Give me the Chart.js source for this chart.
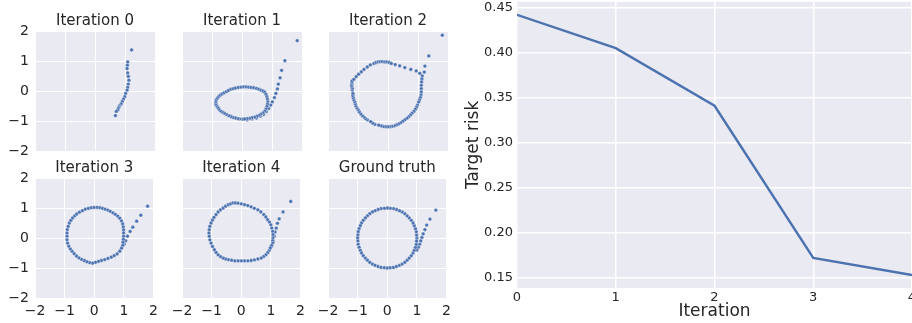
<!DOCTYPE html>
<html>
<head>
<meta charset="utf-8">
<script src="https://cdn.jsdelivr.net/npm/chart.js@4.4.0/dist/chart.umd.min.js"></script>
<style>
html, body { margin: 0; padding: 0; background: #fff; overflow: hidden; width: 912px; height: 323px; position: relative; }
canvas { position: absolute; }
</style>
</head>
<body>
<script>
// ---- data ----
var panelTitles = ['Iteration 0', 'Iteration 1', 'Iteration 2', 'Iteration 3', 'Iteration 4', 'Ground truth'];
var axisTicks = [-2, -1, 0, 1, 2];

var iter0 = [[1.22,1.37],[1.09,0.97],[1.08,0.86],[1.07,0.75],[1.09,0.60],[1.11,0.49],[1.13,0.36],[1.11,0.23],
  [1.09,0.12],[1.07,0.03],[1.02,-0.08],[0.99,-0.19],[0.95,-0.27],[0.91,-0.35],[0.87,-0.43],[0.82,-0.49],
  [0.80,-0.53],[0.78,-0.57],[0.76,-0.63],[0.71,-0.68],[0.68,-0.82]];

var iter1 = [[1.84,1.68],[1.43,1.01],[1.32,0.69],[1.27,0.44],[1.21,0.23],[1.18,0.07],[1.13,-0.08],[1.08,-0.22],
  [1.01,-0.36],[0.96,-0.47],[0.89,-0.58],[0.81,-0.69],[0.72,-0.78],[0.61,-0.84],[0.48,-0.90],[0.33,-0.93],
  [0.17,-0.96],[0.02,-0.94],[-0.08,-0.93],[-0.14,-0.92],[-0.22,-0.90],[-0.30,-0.88],[-0.37,-0.85],[-0.44,-0.82],
  [-0.52,-0.78],[-0.59,-0.74],[-0.66,-0.70],[-0.72,-0.66],[-0.77,-0.60],[-0.81,-0.54],[-0.85,-0.48],[-0.87,-0.43],
  [-0.87,-0.36],[-0.86,-0.30],[-0.82,-0.24],[-0.78,-0.19],[-0.73,-0.14],[-0.67,-0.10],[-0.60,-0.06],[-0.52,-0.02],
  [-0.45,0.02],[-0.37,0.06],[-0.29,0.08],[-0.21,0.10],[-0.12,0.12],[-0.03,0.13],[0.06,0.14],[0.14,0.14],
  [0.22,0.13],[0.30,0.12],[0.39,0.11],[0.48,0.09],[0.56,0.06],[0.63,0.03],[0.70,0.00],[0.76,-0.04],
  [0.80,-0.11],[0.83,-0.19],[0.85,-0.27],[0.86,-0.36],[0.85,-0.44],[0.83,-0.52],[0.80,-0.60],[0.76,-0.67],
  [0.70,-0.73],[0.63,-0.77],[0.57,-0.81],[0.50,-0.84],[0.42,-0.87],[0.33,-0.89],[0.25,-0.91],[0.17,-0.92],[0.09,-0.93]];

var iter2 = [[1.81,1.86],[1.36,1.17],[1.23,0.83],[1.21,0.63],[1.14,0.50],[1.13,0.40],[1.12,0.30],[1.11,0.19],
  [1.11,0.08],[1.11,-0.03],[1.10,-0.13],[1.08,-0.22],[1.05,-0.30],[1.02,-0.37],[0.98,-0.47],[0.95,-0.54],
  [0.91,-0.61],[0.86,-0.68],[0.80,-0.74],[0.75,-0.80],[0.69,-0.86],[0.63,-0.91],[0.56,-0.96],[0.49,-1.01],
  [0.42,-1.06],[0.35,-1.10],[0.28,-1.13],[0.21,-1.16],[0.13,-1.18],[0.06,-1.19],[0.00,-1.19],[-0.08,-1.19],
  [-0.16,-1.18],[-0.23,-1.16],[-0.31,-1.14],[-0.44,-1.11],[-0.51,-1.07],[-0.58,-1.02],[-0.69,-0.96],[-0.75,-0.92],
  [-0.80,-0.87],[-0.86,-0.82],[-0.91,-0.76],[-0.96,-0.69],[-1.00,-0.62],[-1.04,-0.56],[-1.07,-0.50],[-1.09,-0.43],
  [-1.11,-0.36],[-1.14,-0.29],[-1.16,-0.22],[-1.17,-0.15],[-1.17,-0.08],[-1.19,0.03],[-1.19,0.09],[-1.21,0.16],
  [-1.21,0.22],[-1.20,0.28],[-1.20,0.33],[-1.14,0.39],[-1.06,0.48],[-0.98,0.56],[-0.89,0.64],[-0.80,0.72],
  [-0.69,0.80],[-0.59,0.87],[-0.47,0.92],[-0.40,0.95],[-0.33,0.97],[-0.26,0.98],[-0.19,0.98],[-0.11,0.97],
  [-0.04,0.97],[0.04,0.95],[0.11,0.92],[0.24,0.88],[0.39,0.84],[0.56,0.78],[0.76,0.72],[0.94,0.67],[1.06,0.59]];

var iter3 = [[1.80,1.06],[1.57,0.76],[1.43,0.56],[1.30,0.36],[1.21,0.22],[1.12,0.06],[1.06,-0.09],[1.01,-0.20],
  [-0.92,0.06],[-0.92,0.17],[-0.91,0.28],[-0.88,0.39],[-0.84,0.50],[-0.79,0.59],[-0.73,0.67],[-0.66,0.74],
  [-0.59,0.80],[-0.50,0.86],[-0.40,0.91],[-0.30,0.96],[-0.20,0.99],[-0.10,1.01],[0.00,1.02],[0.10,1.02],
  [0.19,1.01],[0.28,0.99],[0.37,0.96],[0.46,0.93],[0.54,0.89],[0.63,0.84],[0.71,0.79],[0.79,0.73],
  [0.86,0.66],[0.92,0.57],[0.96,0.47],[0.98,0.37],[0.99,0.27],[0.99,0.17],[0.99,0.06],[0.98,-0.05],
  [0.97,-0.15],[0.96,-0.25],[0.92,-0.34],[0.86,-0.44],[0.77,-0.53],[0.67,-0.59],[0.57,-0.64],[0.46,-0.68],
  [0.35,-0.72],[0.24,-0.75],[0.14,-0.78],[0.04,-0.81],[-0.06,-0.84],[-0.16,-0.82],[-0.25,-0.79],[-0.34,-0.75],
  [-0.43,-0.71],[-0.52,-0.66],[-0.60,-0.60],[-0.68,-0.52],[-0.75,-0.44],[-0.81,-0.36],[-0.86,-0.27],[-0.90,-0.17],[-0.92,-0.06]];

var iter4 = [[1.67,1.22],[1.41,0.87],[1.28,0.64],[1.22,0.49],[1.18,0.33],[1.14,0.20],[1.11,0.06],[1.08,-0.11],
  [1.02,-0.28],[0.94,-0.42],[0.89,-0.49],[0.83,-0.56],[0.75,-0.62],[0.67,-0.67],[0.56,-0.70],[0.44,-0.73],
  [0.33,-0.75],[0.22,-0.76],[0.11,-0.76],[0.00,-0.76],[-0.11,-0.76],[-0.22,-0.76],[-0.33,-0.74],[-0.44,-0.72],
  [-0.53,-0.70],[-0.61,-0.67],[-0.70,-0.62],[-0.78,-0.56],[-0.85,-0.48],[-0.91,-0.39],[-0.97,-0.28],[-1.02,-0.17],
  [-1.06,-0.06],[-1.08,0.06],[-1.09,0.17],[-1.08,0.28],[-1.06,0.39],[-1.02,0.50],[-0.97,0.60],[-0.92,0.69],
  [-0.85,0.78],[-0.78,0.87],[-0.70,0.94],[-0.61,1.00],[-0.53,1.06],[-0.44,1.11],[-0.36,1.14],[-0.28,1.17],
  [-0.20,1.17],[-0.11,1.16],[0.00,1.14],[0.11,1.11],[0.22,1.08],[0.33,1.04],[0.44,0.99],[0.56,0.94],
  [0.66,0.87],[0.76,0.78],[0.83,0.70],[0.89,0.61],[0.95,0.53],[1.00,0.44],[1.03,0.33],[1.06,0.22],
  [1.07,0.11],[1.07,0.00],[1.06,-0.09],[1.06,-0.17],[1.02,-0.25],[0.98,-0.33]];

var truth = [[1.64,0.93],[1.44,0.63],[1.33,0.43],[1.27,0.28],[1.21,0.14],[1.17,0.02],[1.13,-0.10],[1.09,-0.21],
  [1.05,-0.31],[1.00,-0.40],
  [1.00,0.00],[0.99,0.10],[0.98,0.21],[0.95,0.31],[0.91,0.41],[0.87,0.50],[0.81,0.59],[0.74,0.67],
  [0.67,0.74],[0.59,0.81],[0.50,0.87],[0.41,0.91],[0.31,0.95],[0.21,0.98],[0.10,0.99],[0.00,1.00],
  [-0.10,0.99],[-0.21,0.98],[-0.31,0.95],[-0.41,0.91],[-0.50,0.87],[-0.59,0.81],[-0.67,0.74],[-0.74,0.67],
  [-0.81,0.59],[-0.87,0.50],[-0.91,0.41],[-0.95,0.31],[-0.98,0.21],[-0.99,0.10],[-1.00,0.00],[-0.99,-0.10],
  [-0.98,-0.21],[-0.95,-0.31],[-0.91,-0.41],[-0.87,-0.50],[-0.81,-0.59],[-0.74,-0.67],[-0.67,-0.74],[-0.59,-0.81],
  [-0.50,-0.87],[-0.41,-0.91],[-0.31,-0.95],[-0.21,-0.98],[-0.10,-0.99],[0.00,-1.00],[0.10,-0.99],[0.21,-0.98],
  [0.31,-0.95],[0.41,-0.91],[0.50,-0.87],[0.59,-0.81],[0.67,-0.74],[0.74,-0.67],[0.81,-0.59],[0.87,-0.50],
  [0.91,-0.41],[0.95,-0.31],[0.98,-0.21],[0.99,-0.10]];

var iterations = [0, 1, 2, 3, 4];
var targetRisk = [0.442, 0.405, 0.341, 0.172, 0.153];
var riskTicks = [0.15, 0.20, 0.25, 0.30, 0.35, 0.40, 0.45];

// ---- styling ----
var FONT = 'DejaVu Sans';
var TEXT = '#262626';
var BLUE = '#4C72B0';
Chart.defaults.font.family = FONT;
Chart.defaults.color = TEXT;

// grey plot background like seaborn darkgrid
var plotBg = {
    id: 'plotBg',
    beforeDraw: function (chart) {
        var a = chart.chartArea, c = chart.ctx;
        c.save();
        c.fillStyle = '#EAEAF2';
        c.fillRect(a.left, a.top, a.right - a.left, a.bottom - a.top);
        c.restore();
    }
};

function minus(v) { return String(v).replace('-', '\u2212'); }
function addCanvas(left, top, w, h) {
    var cv = document.createElement('canvas');
    cv.width = w; cv.height = h;
    cv.style.left = left + 'px'; cv.style.top = top + 'px';
    document.body.appendChild(cv);
    return cv;
}

// ---- small scatter panels (2 x 3) ----
var panelPoints = [iter0, iter1, iter2, iter3, iter4, truth];
var colLeft = [35, 182, 328], rowTop = [31, 178], side = 120;

panelPoints.forEach(function (pts, i) {
    var col = i % 3, row = Math.floor(i / 3);
    var cv = addCanvas(colLeft[col] - 35, rowTop[row] - 31, 35 + side + 8, 31 + side + 26);
    new Chart(cv, {
        type: 'scatter',
        data: {
            datasets: [{
                data: pts,
                backgroundColor: BLUE,
                borderColor: '#ffffff',
                borderWidth: 0.4,
                pointRadius: 1.9
            }]
        },
        options: {
            responsive: false,
            animation: false,
            events: [],
            layout: { padding: { right: 8 } },
            plugins: {
                legend: { display: false },
                tooltip: { enabled: false },
                title: {
                    display: true,
                    text: panelTitles[i],
                    fullSize: false,
                    color: TEXT,
                    font: { family: FONT, size: 15, weight: 'normal' },
                    padding: { top: 12.5, bottom: 0.5 }
                }
            },
            scales: {
                x: {
                    type: 'linear', min: -2, max: 2,
                    afterBuildTicks: function (s) { s.ticks = axisTicks.map(function (v) { return { value: v }; }); },
                    afterFit: function (s) { s.height = 26; },
                    grid: { color: '#ffffff', lineWidth: 1, drawTicks: false },
                    border: { display: false },
                    ticks: { display: row === 1, padding: 5, font: { size: 14 }, callback: minus }
                },
                y: {
                    type: 'linear', min: -2, max: 2,
                    afterBuildTicks: function (s) { s.ticks = axisTicks.map(function (v) { return { value: v }; }); },
                    afterFit: function (s) { s.width = 35; },
                    grid: { color: '#ffffff', lineWidth: 1, drawTicks: false },
                    border: { display: false },
                    ticks: { display: col === 0, padding: 6, font: { size: 14 }, callback: minus }
                }
            }
        },
        plugins: [plotBg]
    });
});

// ---- target risk line chart ----
var riskCanvas = addCanvas(460, -10, 500, 333);
new Chart(riskCanvas, {
    type: 'line',
    data: {
        datasets: [{
            data: iterations.map(function (x, i) { return { x: x, y: targetRisk[i] }; }),
            borderColor: BLUE,
            borderWidth: 2.4,
            pointRadius: 0,
            tension: 0,
            fill: false
        }]
    },
    options: {
        responsive: false,
        animation: false,
        events: [],
        layout: { padding: { top: 9, right: 48 } },
        plugins: {
            legend: { display: false },
            tooltip: { enabled: false }
        },
        scales: {
            x: {
                type: 'linear', min: 0, max: 4,
                afterBuildTicks: function (s) { s.ticks = iterations.map(function (v) { return { value: v }; }); },
                afterFit: function (s) { s.height = 35; },
                grid: { color: '#ffffff', lineWidth: 1.5, drawTicks: false },
                border: { display: false },
                ticks: { padding: 2, font: { size: 13 } },
                title: { display: true, text: 'Iteration', color: TEXT, font: { size: 17 }, padding: { top: 0, bottom: 1 } }
            },
            y: {
                type: 'linear', min: 0.1385, max: 0.4565,
                afterBuildTicks: function (s) { s.ticks = riskTicks.map(function (v) { return { value: v }; }); },
                afterFit: function (s) { s.width = 57; },
                grid: { color: '#ffffff', lineWidth: 1.5, drawTicks: false },
                border: { display: false },
                ticks: { padding: 4, font: { size: 13 }, callback: function (v) { return v.toFixed(2); } },
                title: { display: true, text: 'Target risk', color: TEXT, font: { size: 17 }, padding: { top: 3, bottom: 4 } }
            }
        }
    },
    plugins: [plotBg]
});
</script>
</body>
</html>
